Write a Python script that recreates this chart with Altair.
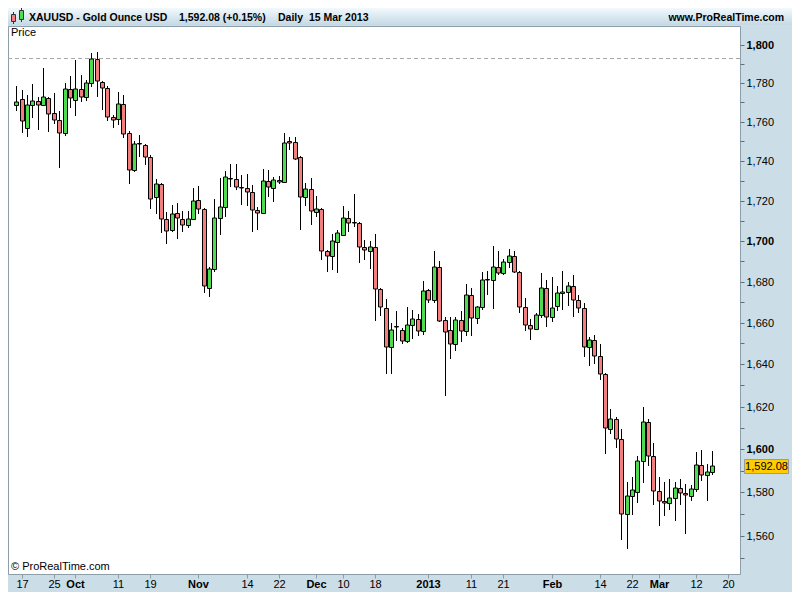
import json
import altair as alt
import numpy as np
import pandas as pd

# ---------------- data ----------------
first_day = "2012-09-14"
axis_end_day = "2013-03-22"

opens = [1768.4, 1771.6, 1757.0, 1768.4, 1770.9, 1768.7, 1772.1, 1764.5, 1760.9, 1754.2,
         1777.1, 1771.2, 1777.1, 1772.9, 1780.0, 1792.4, 1780.5, 1777.6, 1762.3, 1761.2,
         1769.1, 1754.5, 1735.5, 1749.2, 1748.4, 1742.1, 1721.9, 1728.2, 1711.0, 1705.3,
         1713.9, 1711.0, 1708.1, 1710.9, 1720.2, 1715.9, 1676.8, 1686.0, 1711.5, 1717.0,
         1731.6, 1731.1, 1726.7, 1726.2, 1724.3, 1715.4, 1713.9, 1730.1, 1726.2, 1730.6,
         1729.6, 1750.4, 1749.5, 1742.1, 1722.0, 1725.7, 1714.2, 1715.9, 1695.1, 1692.4,
         1699.7, 1703.0, 1711.5, 1709.4, 1709.0, 1696.9, 1695.1, 1696.9, 1676.4, 1667.3,
         1648.4, 1658.3, 1656.4, 1651.2, 1658.7, 1661.9, 1655.9, 1675.8, 1670.9, 1687.3,
         1661.1, 1656.4, 1649.6, 1661.1, 1655.9, 1673.3, 1662.5, 1667.7, 1681.1, 1680.7,
         1687.1, 1684.1, 1689.7, 1692.6, 1684.9, 1667.7, 1658.7, 1657.0, 1663.8, 1676.8,
         1663.0, 1668.2, 1674.3, 1674.9, 1678.0, 1670.9, 1666.9, 1648.4, 1651.5, 1644.2,
         1635.3, 1609.5, 1614.0, 1604.9, 1570.0, 1578.4, 1580.0, 1594.7, 1612.9, 1597.0,
         1580.7, 1575.9, 1575.0, 1577.3, 1582.2, 1579.5, 1578.3, 1581.7, 1592.8, 1588.2,
         1589.4]
highs = [1778.3, 1776.6, 1773.8, 1779.6, 1773.0, 1787.8, 1772.6, 1775.0, 1765.4, 1780.0,
         1783.4, 1791.9, 1784.2, 1781.7, 1795.8, 1796.3, 1781.2, 1778.6, 1763.5, 1775.1,
         1773.8, 1755.4, 1750.0, 1753.4, 1748.9, 1742.9, 1730.7, 1729.0, 1714.5, 1717.8,
         1718.8, 1715.0, 1715.0, 1726.5, 1727.3, 1716.5, 1687.1, 1720.7, 1731.7, 1735.0,
         1738.5, 1738.3, 1733.0, 1733.5, 1727.8, 1717.0, 1735.8, 1735.5, 1732.2, 1732.7,
         1754.5, 1752.0, 1752.0, 1742.6, 1729.0, 1731.7, 1722.4, 1716.5, 1695.6, 1703.4,
         1705.3, 1717.5, 1714.7, 1723.5, 1709.4, 1700.4, 1700.0, 1703.5, 1676.8, 1671.7,
         1659.8, 1665.8, 1657.5, 1667.7, 1666.1, 1664.2, 1680.1, 1676.4, 1695.1, 1689.9,
         1662.7, 1662.7, 1662.7, 1665.8, 1678.8, 1676.8, 1668.3, 1684.9, 1685.2, 1697.5,
         1695.1, 1691.1, 1696.0, 1695.1, 1685.4, 1672.2, 1661.9, 1664.6, 1684.1, 1680.9,
         1682.2, 1677.7, 1685.0, 1679.6, 1683.1, 1673.6, 1669.8, 1653.1, 1654.0, 1649.6,
         1635.9, 1618.6, 1615.1, 1609.5, 1584.9, 1587.1, 1597.0, 1619.8, 1614.3, 1603.1,
         1587.2, 1584.9, 1586.4, 1584.9, 1586.0, 1583.7, 1583.3, 1598.5, 1599.5, 1593.0,
         1599.1]
lows = [1765.4, 1754.2, 1752.0, 1762.0, 1755.7, 1768.2, 1755.0, 1758.7, 1736.3, 1752.9,
        1767.0, 1763.2, 1770.4, 1770.9, 1778.0, 1773.0, 1766.2, 1760.3, 1756.7, 1758.2,
        1751.7, 1728.4, 1734.3, 1742.1, 1738.0, 1715.9, 1713.4, 1703.7, 1698.4, 1704.5,
        1700.8, 1704.5, 1706.6, 1710.4, 1713.4, 1674.4, 1672.5, 1684.6, 1702.9, 1712.1,
        1726.9, 1725.3, 1717.8, 1717.5, 1704.5, 1705.3, 1713.4, 1722.0, 1719.6, 1728.6,
        1728.9, 1745.7, 1740.4, 1705.3, 1717.5, 1707.7, 1711.8, 1690.8, 1684.7, 1685.7,
        1684.4, 1702.9, 1704.5, 1706.9, 1689.2, 1690.8, 1686.1, 1660.9, 1663.5, 1635.6,
        1635.3, 1651.2, 1649.6, 1650.1, 1652.4, 1653.6, 1654.3, 1669.8, 1669.8, 1660.3,
        1625.2, 1642.6, 1646.2, 1650.9, 1653.6, 1653.6, 1659.3, 1666.1, 1673.3, 1666.6,
        1683.3, 1683.1, 1686.8, 1684.1, 1664.6, 1655.9, 1651.5, 1656.4, 1662.2, 1657.8,
        1660.3, 1665.6, 1666.1, 1668.2, 1663.0, 1664.9, 1643.7, 1639.0, 1640.2, 1632.5,
        1597.6, 1607.2, 1600.6, 1558.4, 1554.2, 1569.5, 1575.0, 1584.5, 1592.0, 1574.4,
        1564.6, 1569.1, 1571.7, 1567.0, 1574.4, 1561.0, 1575.9, 1580.0, 1585.2, 1576.2,
        1588.2]
closes = [1770.4, 1760.3, 1768.4, 1770.9, 1768.9, 1772.9, 1764.2, 1760.7, 1754.2, 1777.1,
          1772.5, 1777.1, 1772.9, 1780.0, 1792.4, 1781.0, 1777.5, 1762.3, 1760.8, 1769.1,
          1754.0, 1735.5, 1748.7, 1748.6, 1742.1, 1720.7, 1728.2, 1711.0, 1705.1, 1713.4,
          1711.5, 1708.1, 1711.0, 1719.9, 1715.9, 1677.7, 1686.0, 1711.5, 1717.0, 1732.2,
          1731.2, 1726.8, 1726.3, 1724.3, 1715.4, 1713.9, 1730.1, 1726.8, 1730.6, 1729.6,
          1749.0, 1749.2, 1741.2, 1722.0, 1725.7, 1714.7, 1715.9, 1694.8, 1692.4, 1700.0,
          1703.7, 1711.5, 1708.8, 1709.0, 1696.9, 1695.3, 1696.9, 1676.3, 1667.7, 1648.4,
          1656.7, 1657.9, 1651.2, 1658.7, 1661.9, 1655.9, 1675.3, 1670.9, 1687.3, 1660.9,
          1655.5, 1649.6, 1661.1, 1655.9, 1673.7, 1662.5, 1667.7, 1680.9, 1680.7, 1687.1,
          1684.1, 1689.7, 1692.6, 1684.9, 1667.7, 1658.7, 1657.0, 1663.8, 1676.8, 1663.0,
          1667.3, 1674.4, 1674.7, 1678.0, 1671.0, 1667.3, 1648.4, 1651.5, 1644.2, 1635.3,
          1609.9, 1614.0, 1604.9, 1570.0, 1578.4, 1581.1, 1594.7, 1612.9, 1597.0, 1580.7,
          1575.9, 1575.0, 1577.3, 1582.2, 1579.5, 1578.6, 1581.7, 1592.8, 1588.2, 1589.4,
          1592.08]

tick_dates = ["2012-09-17", "2012-09-25", "2012-10-01", "2012-10-11", "2012-10-19",
              "2012-11-01", "2012-11-14", "2012-11-22", "2012-12-03", "2012-12-10",
              "2012-12-18", "2013-01-01", "2013-01-11", "2013-01-21", "2013-02-01",
              "2013-02-14", "2013-02-22", "2013-03-01", "2013-03-12", "2013-03-20"]
tick_labels = ["17", "25", "Oct", "11", "19", "Nov", "14", "22", "Dec", "10", "18",
               "2013", "11", "21", "Feb", "14", "22", "Mar", "12", "20"]
bold_labels = ["Oct", "Nov", "Dec", "2013", "Feb", "Mar"]

price_ticks = [1550, 1560, 1570, 1580, 1590, 1600, 1610, 1620, 1630, 1640, 1650, 1660,
               1670, 1680, 1690, 1700, 1710, 1720, 1730, 1740, 1750, 1760, 1770, 1780,
               1790, 1800]
price_domain = [1542.9, 1809.8]
prior_high = [1793.2]
last_price = [1592.08]

header_title = "XAUUSD - Gold Ounce USD"
header_quote = "1,592.08 (+0.15%)"
header_period = "Daily\u00a0\u00a015 Mar 2013"
header_site = "www.ProRealTime.com"
corner_label = "Price"
copyright_text = "\u00a9 ProRealTime.com"

# ---------------- styling ----------------
GREEN = "#4fdb4f"
RED = "#f27e7e"
BAND = "#cbdde7"
EDGE = "#8d9ea9"
FONT = "Liberation Sans"
W, H = 732, 548
RIGHT, TOP, BOTTOM = 52, 18, 18

calendar = pd.bdate_range(first_day, axis_end_day)
n_days = len(opens)
df = pd.DataFrame({
    "date": calendar[:n_days].strftime("%Y-%m-%d"),
    "n": np.arange(n_days),
    "open": opens, "high": highs, "low": lows, "close": closes,
})
df["dir"] = np.where(df["close"] >= df["open"], "up", "down")

tick_pos = [int(calendar.get_loc(pd.Timestamp(d))) for d in tick_dates]
bold_pos = [p for p, l in zip(tick_pos, tick_labels) if l in bold_labels]

x_label_expr = f"{json.dumps(tick_labels)}[indexof({json.dumps(tick_pos)}, datum.value)]"
x_bold_test = f"indexof({json.dumps(bold_pos)}, datum.value) >= 0"

xscale = alt.Scale(domain=[-0.63, 134.27], nice=False, zero=False, round=True)
yscale = alt.Scale(type="log", domain=price_domain, nice=False, zero=False, round=True)

xax = alt.Axis(values=tick_pos, labelExpr=x_label_expr, orient="bottom", domain=False,
               ticks=True, tickSize=4, tickColor=EDGE, tickWidth=1, grid=False, title=None,
               labelFont=FONT, labelFontSize=11, labelColor="#000000", labelPadding=0,
               labelAngle=0, labelOverlap=False, labelFlush=False, labelBound=False,
               labelFontWeight={"condition": {"test": x_bold_test, "value": "bold"},
                                "value": "normal"})
yax = alt.Axis(values=price_ticks, orient="right", domain=False, ticks=True, tickSize=4,
               tickColor="#5f6f7a", tickWidth=1, grid=False, title=None,
               labelExpr="datum.value % 20 === 0 ? format(datum.value, ',') : ''",
               labelFont=FONT, labelFontSize=11, labelColor="#000000", labelPadding=2,
               labelOverlap=False, labelFlush=False, labelBound=False,
               labelFontWeight={"condition": {"test": "datum.value % 100 === 0", "value": "bold"},
                                "value": "normal"})

X = alt.X("n:Q", scale=xscale, axis=xax)

wicks = alt.Chart(df).mark_rule(color="black", strokeWidth=1, xOffset=0.5).encode(
    x=X, y=alt.Y("low:Q", scale=yscale, axis=yax), y2="high:Q")

bodies = alt.Chart(df).mark_bar(size=4, stroke="black", strokeWidth=1, xOffset=0.5,
                                yOffset=0.5, opacity=1).encode(
    x=X, y=alt.Y("open:Q", scale=yscale, axis=yax), y2="close:Q",
    color=alt.Color("dir:N", scale=alt.Scale(domain=["up", "down"], range=[GREEN, RED]),
                    legend=None))

level_df = pd.DataFrame({"level": prior_high})
dashed = alt.Chart(level_df).mark_rule(color="#a8a8a8", strokeWidth=1, strokeDash=[4, 3],
                                        yOffset=0.5).encode(
    y=alt.Y("level:Q", scale=yscale, axis=yax), x=alt.value(0), x2=alt.value(W))

tag_df = pd.DataFrame({"price": last_price})
tag = alt.Chart(tag_df).mark_tick(orient="horizontal", size=44, thickness=14, color="#ffcc00",
                                  stroke="#9a9a9a", strokeWidth=1, opacity=1, yOffset=0.5).encode(
    y=alt.Y("price:Q", scale=yscale, axis=yax), x=alt.value(W + 26.5))
tag_text = alt.Chart(tag_df).mark_text(font=FONT, fontSize=11, color="#000000",
                                       align="center", baseline="middle", dy=1).encode(
    y=alt.Y("price:Q", scale=yscale, axis=yax), x=alt.value(W + 26.5),
    text=alt.Text("price:Q", format=",.2f"))

deco = alt.Data(values=[{"k": 0}])
header_fill = alt.Gradient(gradient="linear", x1=0, x2=0, y1=0, y2=1,
                           stops=[alt.GradientStop(color="#f2f9fc", offset=0),
                                  alt.GradientStop(color="#c4d9e5", offset=1)])
header = alt.Chart(deco).mark_rect(fill=header_fill).encode(
    x=alt.value(0), x2=alt.value(W + RIGHT), y=alt.value(-TOP), y2=alt.value(-1))

icon_red = alt.Chart(deco).mark_rect(fill=RED, stroke="#333", strokeWidth=1).encode(
    x=alt.value(3.5), x2=alt.value(7.5), y=alt.value(-11.5), y2=alt.value(-4.5))
icon_red_w = alt.Chart(deco).mark_rule(color="#333").encode(
    x=alt.value(5.5), y=alt.value(-14), y2=alt.value(-2))
icon_green = alt.Chart(deco).mark_rect(fill=GREEN, stroke="#333", strokeWidth=1).encode(
    x=alt.value(11.5), x2=alt.value(15.5), y=alt.value(-15.5), y2=alt.value(-6.5))
icon_green_w = alt.Chart(deco).mark_rule(color="#333").encode(
    x=alt.value(13.5), y=alt.value(-18), y2=alt.value(-4))


def htext(txt, x, align="left", weight="bold", y=-8.5, size=10.5):
    return alt.Chart(deco).mark_text(text=txt, font=FONT, fontSize=size, fontWeight=weight,
                                     color="#000000", align=align, baseline="middle").encode(
        x=alt.value(x), y=alt.value(y))


texts = [
    htext(header_title, 21),
    htext(header_quote, 171),
    htext(header_period, 270),
    htext(header_site, 776, align="right"),
    htext(corner_label, 3, weight="normal", y=7, size=11),
    htext(copyright_text, 3, weight="normal", y=541, size=11),
]

chart = alt.layer(
    header, icon_red_w, icon_red, icon_green_w, icon_green,
    dashed, wicks, bodies, tag, tag_text, *texts
).properties(
    width=W, height=H,
    padding={"left": 0, "top": TOP, "right": RIGHT, "bottom": BOTTOM},
    autosize=alt.AutoSizeParams(type="none"),
).configure(background=BAND).configure_view(fill="white", stroke=EDGE, strokeWidth=1)

chart.save("out.html", embed_options={"renderer": "svg", "actions": False})
